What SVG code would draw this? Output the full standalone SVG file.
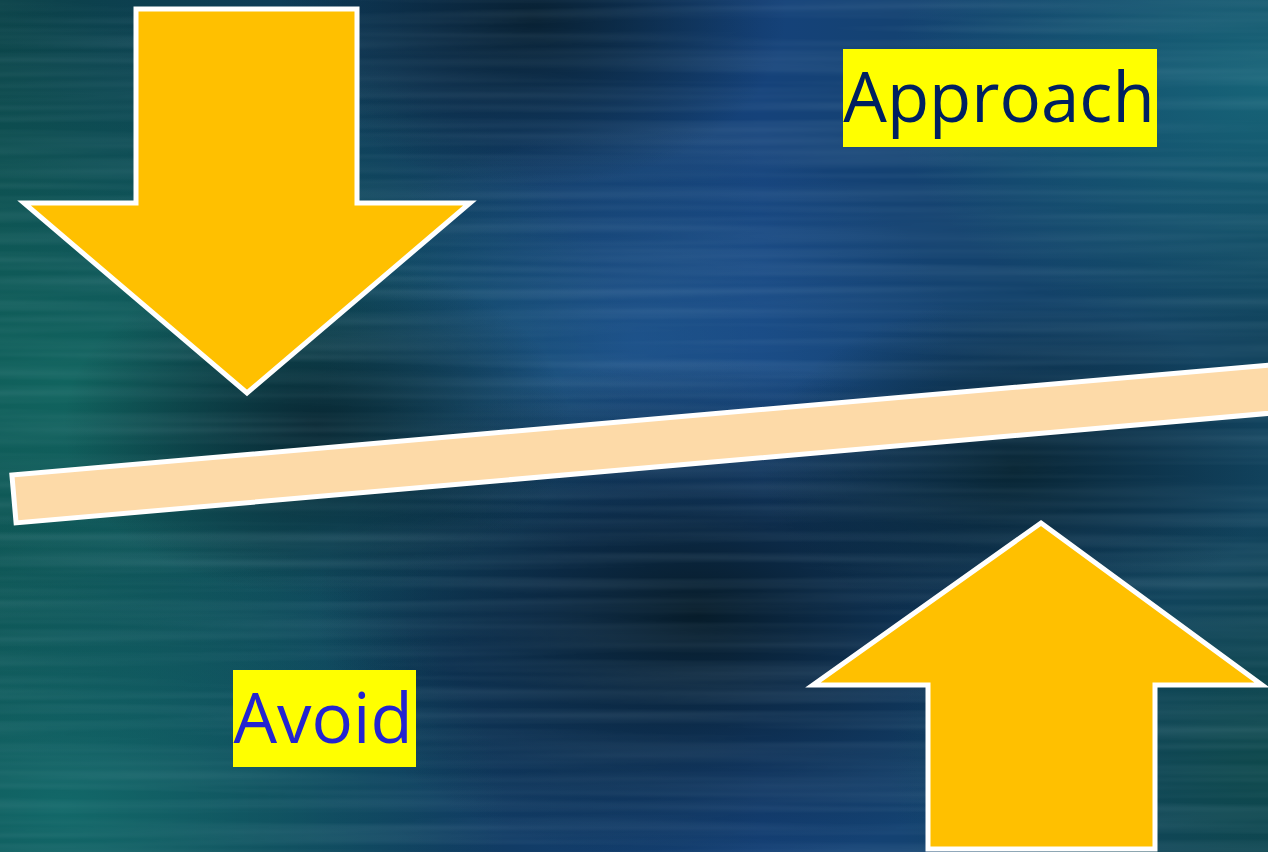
<svg xmlns="http://www.w3.org/2000/svg" width="1268" height="852" viewBox="0 0 1268 852">
<defs>
<style>
.arrow{fill:#FFC000;stroke:#FFFFFF;stroke-width:5;stroke-linejoin:miter;stroke-miterlimit:10}
.bar{fill:#FDDAA8;stroke:#FFFFFF;stroke-width:5}
.lbl{fill:#FFFF00}
.txt{font-family:"Open Sans","Noto Sans","Liberation Sans",sans-serif;font-size:69px;text-anchor:middle}
</style>
<linearGradient id="base" x1="0" y1="0" x2="1" y2="0">
<stop offset="0" stop-color="#0b4248"/>
<stop offset="0.35" stop-color="#103a60"/>
<stop offset="0.6" stop-color="#15427a"/>
<stop offset="1" stop-color="#11425c"/>
</linearGradient>
<radialGradient id="tealL" cx="0.05" cy="0.45" r="0.45">
<stop offset="0" stop-color="#126a62" stop-opacity="0.85"/>
<stop offset="1" stop-color="#126a62" stop-opacity="0"/>
</radialGradient>
<radialGradient id="tealBL" cx="0.05" cy="0.95" r="0.35">
<stop offset="0" stop-color="#147270" stop-opacity="0.8"/>
<stop offset="1" stop-color="#147270" stop-opacity="0"/>
</radialGradient>
<radialGradient id="dark1" cx="0.55" cy="0.72" r="0.3">
<stop offset="0" stop-color="#061a26" stop-opacity="0.95"/>
<stop offset="1" stop-color="#061a26" stop-opacity="0"/>
</radialGradient>
<radialGradient id="dark2" cx="0.42" cy="0.02" r="0.2">
<stop offset="0" stop-color="#061a26" stop-opacity="0.8"/>
<stop offset="1" stop-color="#061a26" stop-opacity="0"/>
</radialGradient>
<radialGradient id="dark3" cx="0.25" cy="0.5" r="0.2">
<stop offset="0" stop-color="#071e2a" stop-opacity="0.8"/>
<stop offset="1" stop-color="#071e2a" stop-opacity="0"/>
</radialGradient>
<radialGradient id="dark4" cx="0.8" cy="0.55" r="0.2">
<stop offset="0" stop-color="#06202a" stop-opacity="0.85"/>
<stop offset="1" stop-color="#06202a" stop-opacity="0"/>
</radialGradient>
<radialGradient id="blue1" cx="0.5" cy="0.4" r="0.25">
<stop offset="0" stop-color="#2a6aaa" stop-opacity="0.45"/>
<stop offset="1" stop-color="#2a6aaa" stop-opacity="0"/>
</radialGradient>
<radialGradient id="tealR" cx="1" cy="0.1" r="0.3">
<stop offset="0" stop-color="#1a7a8a" stop-opacity="0.6"/>
<stop offset="1" stop-color="#1a7a8a" stop-opacity="0"/>
</radialGradient>
<radialGradient id="tealBR" cx="1" cy="0.9" r="0.3">
<stop offset="0" stop-color="#0d4a48" stop-opacity="0.8"/>
<stop offset="1" stop-color="#0d4a48" stop-opacity="0"/>
</radialGradient>
<filter id="streak" x="0" y="0" width="100%" height="100%">
<feTurbulence type="fractalNoise" baseFrequency="0.002 0.09" numOctaves="2" seed="4"/>
<feColorMatrix type="matrix" values="0 0 0 0 0.6  0 0 0 0 0.8  0 0 0 0 0.9  0 0 0 0.2 -0.07"/>
</filter>
</defs>
<g id="background">
<rect width="1268" height="852" fill="url(#base)"/>
<rect width="1268" height="852" fill="url(#tealL)"/>
<rect width="1268" height="852" fill="url(#tealBL)"/>
<rect width="1268" height="852" fill="url(#blue1)"/>
<rect width="1268" height="852" fill="url(#tealR)"/>
<rect width="1268" height="852" fill="url(#dark1)"/>
<rect width="1268" height="852" fill="url(#dark2)"/>
<rect width="1268" height="852" fill="url(#dark3)"/>
<rect width="1268" height="852" fill="url(#dark4)"/>
<rect width="1268" height="852" fill="url(#tealBR)"/>
<rect width="1268" height="852" filter="url(#streak)"/>
</g>
<g id="bar">
<rect class="bar" transform="translate(14,499) rotate(-5)" x="0" y="-24" width="1320" height="48"/>
</g>
<g id="arrow-down">
<polygon class="arrow" points="136,9 357,9 357,203 470,203 247,393 24,203 136,203"/>
</g>
<g id="arrow-up">
<polygon class="arrow" points="1041,523 1262,685 1155,685 1155,849 928,849 928,685 813,685"/>
</g>
<g id="label-approach">
<rect class="lbl" x="843" y="49" width="314" height="98"/>
<text class="txt" x="999" y="122" fill="#002060">Approach</text>
</g>
<g id="label-avoid">
<rect class="lbl" x="233" y="670" width="183" height="97"/>
<text class="txt" x="323" y="743" fill="#2424D0">Avoid</text>
</g>
</svg>
